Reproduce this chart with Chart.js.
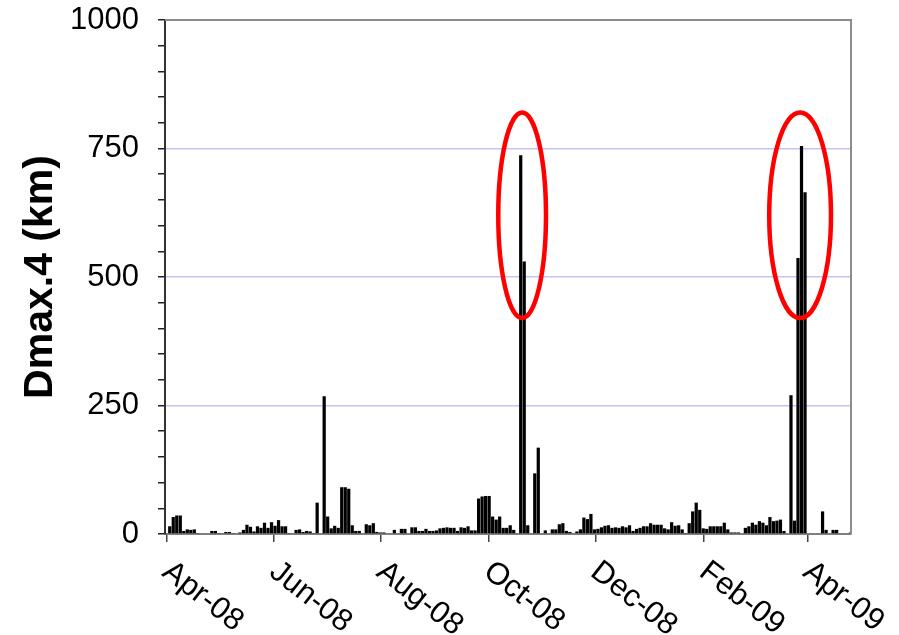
<!DOCTYPE html>
<html>
<head>
<meta charset="utf-8">
<script src="https://cdn.jsdelivr.net/npm/chart.js@4.4.1/dist/chart.umd.min.js"></script>
<style>
    html, body { margin: 0; padding: 0; background: #fff; }
    #wrap { width: 899px; height: 635px; }
</style>
</head>
<body>
<div id="wrap"><canvas id="myChart"></canvas></div>
<script>
// Dmax.4 (km), one bar per 2-day period from the start of Apr-08
var dmaxAprMay08 = [15, 33, 36, 36, 6, 9, 8, 9, 2, 0, 0, 0, 6, 6, 2, 0, 4, 4, 2, 0, 3, 8, 18, 14, 5, 15, 12, 22, 12, 23];
var dmaxJunJul08 = [16, 27, 15, 15, 2, 0, 8, 9, 4, 6, 5, 2, 61, 0, 268, 34, 11, 16, 12, 91, 91, 88, 17, 6, 6, 0, 19, 17, 21, 4];
var dmaxAugSep08 = [3, 3, 0, 0, 8, 0, 10, 10, 0, 13, 13, 6, 6, 10, 6, 6, 7, 11, 12, 13, 12, 12, 6, 13, 12, 15, 7, 7, 69, 73];
var dmaxOctNov08 = [74, 74, 34, 28, 34, 12, 12, 17, 8, 0, 737, 530, 17, 0, 118, 168, 0, 7, 0, 9, 9, 19, 21, 6, 4, 0, 5, 9, 32, 29];
var dmaxDecJan09 = [39, 9, 10, 13, 16, 17, 12, 13, 12, 15, 13, 17, 6, 10, 12, 15, 15, 21, 18, 18, 18, 11, 9, 23, 16, 17, 9, 2, 21, 44];
var dmaxFebMar09 = [61, 47, 11, 10, 15, 15, 15, 15, 22, 9, 3, 3, 3, 0, 12, 15, 22, 18, 25, 22, 17, 33, 25, 26, 28, 6, 0, 270, 26, 537];
var dmaxApr09 = [755, 665, 0, 0, 0, 0, 44, 8, 0, 8, 8, 0, 0, 0, 3];

var tickLabels = ['Apr-08', 'Jun-08', 'Aug-08', 'Oct-08', 'Dec-08', 'Feb-09', 'Apr-09'];
var tickDays = [0, 61, 122, 183, 244, 306, 365];   // days after 1 Apr 2008

// circled peaks: [bar, km, half width (bars), half height (km)]
var circles = [[100.4, 620, 6.8, 200], [179.6, 620, 8.8, 200]];

var dmax = [].concat(dmaxAprMay08, dmaxJunJul08, dmaxAugSep08, dmaxOctNov08, dmaxDecJan09, dmaxFebMar09, dmaxApr09);
var tickPos = tickDays.map(function (d) { return d / 2 - 0.75; });
var fontFamily = '"Liberation Sans", Arial, sans-serif';

var extras = {
    id: 'extras',
    afterDatasetsDraw: function (chart) {
        var ctx = chart.ctx, xs = chart.scales.x, ys = chart.scales.y, area = chart.chartArea;
        ctx.save();

        // top / right frame
        ctx.strokeStyle = '#8c8c8c';
        ctx.lineWidth = 2;
        ctx.beginPath();
        ctx.moveTo(area.left, area.top);
        ctx.lineTo(area.right, area.top);
        ctx.lineTo(area.right, area.bottom);
        ctx.stroke();

        // red rings
        ctx.strokeStyle = '#ff0000';
        ctx.lineWidth = 4.5;
        circles.forEach(function (c) {
            var cx = xs.getPixelForValue(c[0]), cy = ys.getPixelForValue(c[1]);
            var rx = xs.getPixelForValue(c[0] + c[2]) - cx;
            var ry = cy - ys.getPixelForValue(c[1] + c[3]);
            ctx.beginPath();
            ctx.ellipse(cx, cy, rx, ry, 0, 0, Math.PI * 2);
            ctx.stroke();
        });

        // slanted month labels
        ctx.fillStyle = '#000';
        ctx.font = '31px ' + fontFamily;
        ctx.textAlign = 'left';
        ctx.textBaseline = 'middle';
        tickLabels.forEach(function (t, i) {
            var px = xs.getPixelForValue(tickPos[i]);
            ctx.save();
            ctx.translate(px - 1, area.bottom + 34);
            ctx.rotate(38 * Math.PI / 180);
            ctx.fillText(t, 0, 0);
            ctx.restore();
        });
        ctx.restore();
    }
};

new Chart(document.getElementById('myChart'), {
    type: 'bar',
    data: {
        datasets: [{
            label: 'Dmax.4',
            data: dmax.map(function (v, i) { return { x: i, y: v }; }),
            backgroundColor: '#000',
            borderWidth: 0,
            barPercentage: 0.92,
            categoryPercentage: 1
        }]
    },
    options: {
        responsive: true,
        maintainAspectRatio: false,
        animation: false,
        devicePixelRatio: 1,
        layout: { padding: { top: 20, right: 48, bottom: 0, left: 0 } },
        plugins: {
            legend: { display: false },
            tooltip: { enabled: false }
        },
        scales: {
            x: {
                type: 'linear',
                min: -1.35,
                max: 194.1,
                offset: false,
                afterBuildTicks: function (s) {
                    s.ticks = tickPos.map(function (v) { return { value: v }; });
                },
                afterFit: function (s) { s.height = 101; },
                ticks: { display: false },
                grid: { drawOnChartArea: false, offset: false, tickLength: 8, tickColor: '#444', lineWidth: 1.5 },
                border: { color: '#808080', width: 2 }
            },
            y: {
                min: 0,
                max: 1000,
                afterFit: function (s) {
                    s.width = 165;
                    s.paddingTop = 0;
                    s.paddingBottom = 0;
                },
                ticks: {
                    stepSize: 50,
                    autoSkip: false,
                    padding: 19,
                    color: '#000',
                    font: { family: fontFamily, size: 31 },
                    callback: function (v) { return v % 250 === 0 ? v : ''; }
                },
                grid: {
                    color: function (c) {
                        var v = c.tick.value;
                        return (v % 250 === 0 && v > 0 && v < 1000) ? '#c4c4f4' : 'rgba(0,0,0,0)';
                    },
                    lineWidth: 1.5,
                    tickColor: '#222',
                    tickLength: 7
                },
                border: { color: '#333', width: 2 },
                title: {
                    display: true,
                    text: 'Dmax.4 (km)',
                    color: '#000',
                    font: { family: fontFamily, size: 41, weight: 'bold' },
                    padding: { top: 16, bottom: 0 }
                }
            }
        }
    },
    plugins: [extras]
});
</script>
</body>
</html>
